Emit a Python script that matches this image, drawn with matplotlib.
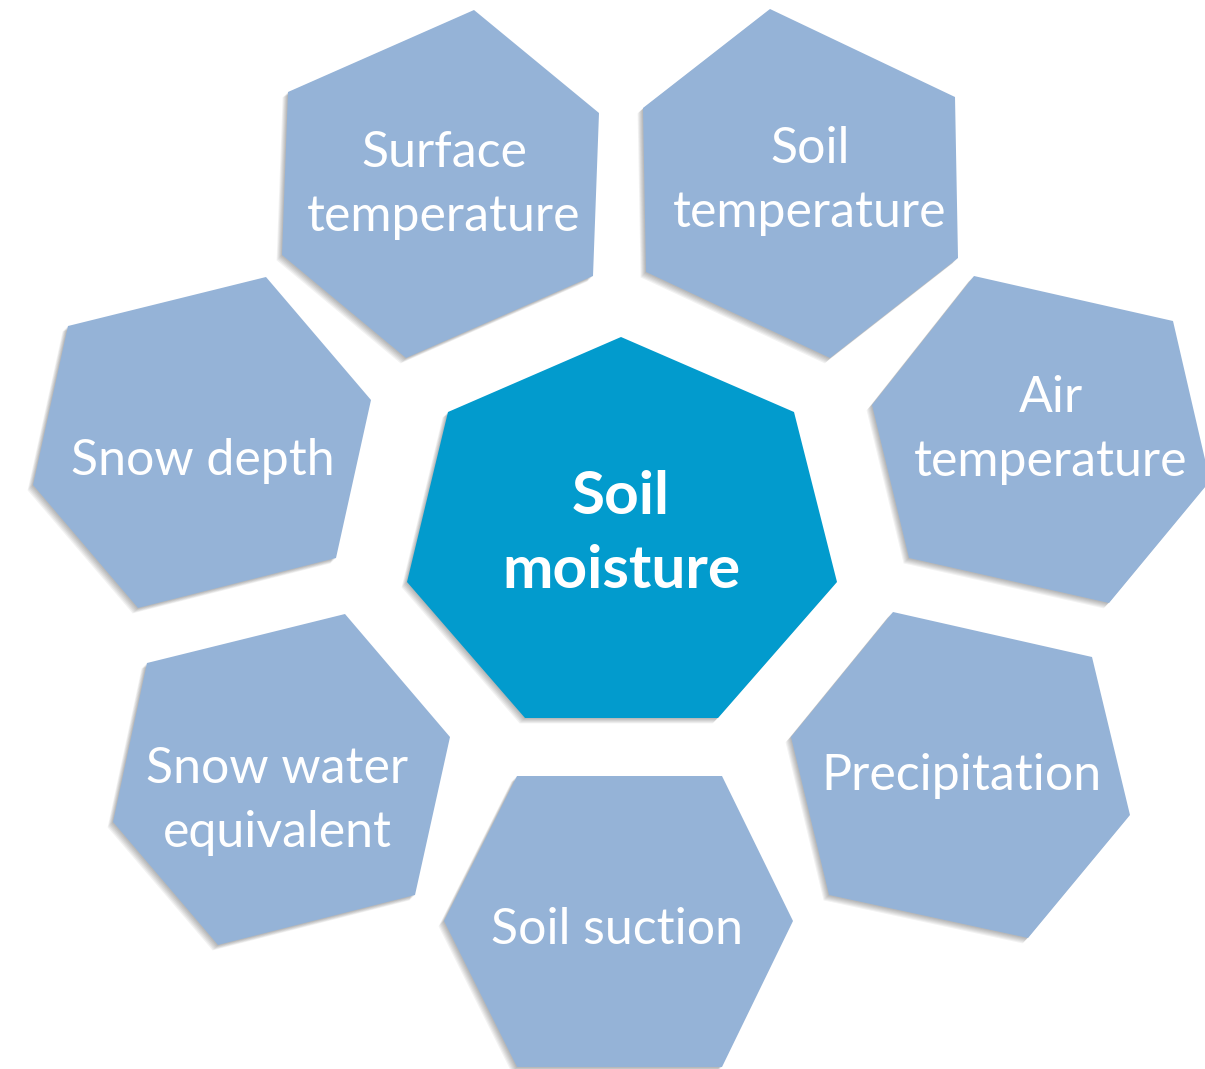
import matplotlib.pyplot as plt
from matplotlib.patches import Polygon

W, H = 1205, 1069

# outer hexagons: (vertices in pixel space, label, label centre)
labels = ["Surface\ntemperature", "Soil\ntemperature", "Snow depth", "Air\ntemperature",
          "Snow water\nequivalent", "Precipitation", "Soil suction"]
label_pos = [(444, 185), (810, 181), (203, 461), (1051, 430), (277, 801), (961, 776), (617, 930)]
shapes = [
    [(474, 10), (599, 113), (593, 276), (406, 358), (282, 255), (288, 92)],
    [(770, 9), (955, 97), (958, 258), (830, 358), (646, 272), (643, 108)],
    [(266, 277), (371, 400), (336, 558), (138, 608), (33, 485), (68, 326)],
    [(974, 276), (1173, 321), (1210, 481), (1109, 603), (909, 558), (872, 405)],
    [(345, 614), (450, 737), (415, 895), (218, 945), (113, 822), (147, 663)],
    [(893, 612), (1092, 657), (1130, 815), (1028, 938), (829, 895), (791, 737)],
    [(517, 776), (722, 776), (793, 921), (722, 1067), (517, 1067), (444, 921)],
]

center_label = "Soil\nmoisture"
center_pos = (621, 534)
center_shape = [(621, 337), (794, 412), (837, 582), (718, 718), (525, 718), (407, 582), (448, 412)]

OUTER = "#95b3d7"
CENTER = "#029bcd"

fig = plt.figure(figsize=(W / 100, H / 100), dpi=100)
ax = fig.add_axes([0, 0, 1, 1])
ax.set_xlim(0, W)
ax.set_ylim(H, 0)
ax.axis("off")


def draw_shape(pts, color):
    # soft shadow towards lower left
    for k in range(1, 7):
        sh = [(x - 0.9 * k, y + 0.9 * k) for x, y in pts]
        ax.add_patch(Polygon(sh, closed=True, fc="black", ec="none", alpha=0.05))
    ax.add_patch(Polygon(pts, closed=True, fc=color, ec="none"))


for pts in shapes:
    draw_shape(pts, OUTER)
draw_shape(center_shape, CENTER)

for txt, (x, y) in zip(labels, label_pos):
    ax.text(x, y, txt, ha="center", va="center", color="white", fontsize=36,
            family="Lato", linespacing=1.5, multialignment="center")

ax.text(center_pos[0], center_pos[1], center_label, ha="center", va="center", color="white",
        fontsize=43.5, family="Lato", fontweight="bold", linespacing=1.45, multialignment="center")

fig.savefig("out.png", dpi=100)
